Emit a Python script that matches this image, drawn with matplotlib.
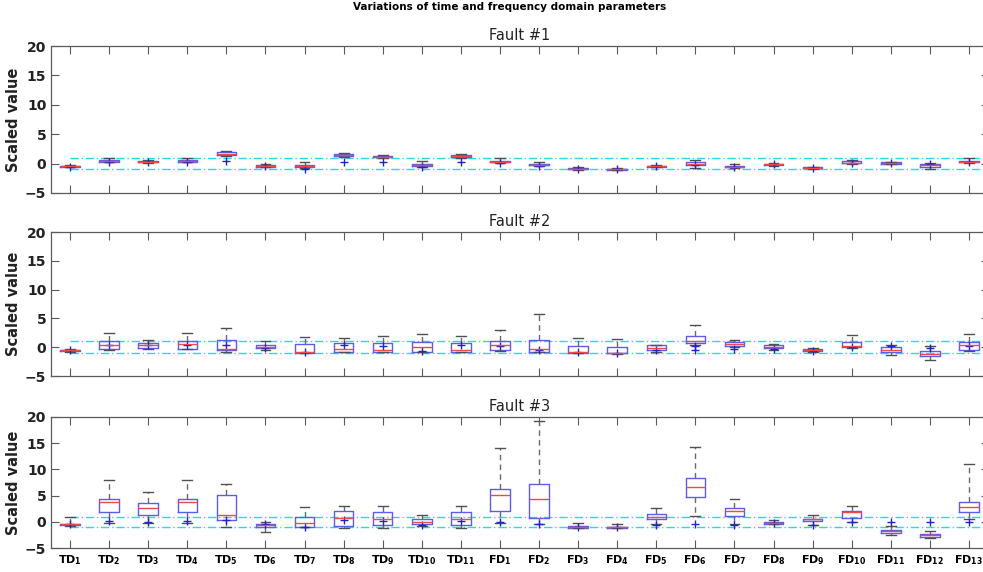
import matplotlib
matplotlib.use("Agg")
import matplotlib.pyplot as plt

# Feature names: 11 time-domain, 13 frequency-domain
td_names = [f"TD{i}" for i in range(1, 12)]
fd_names = [f"FD{i}" for i in range(1, 14)]
feature_names = td_names + fd_names
fault_titles = ["Fault #1", "Fault #2", "Fault #3"]

# Box statistics per fault, one entry per feature (TD1..TD11, FD1..FD13)
f1_q1 = [-0.55, 0.35, 0.2, 0.35, 1.5, -0.5, -0.5, 1.25, 1.05, -0.4, 1.1,
         0.2, -0.3, -1.0, -1.05, -0.55, -0.2, -0.6, -0.3, -0.8, 0.05, 0.0, -0.5, 0.2]
f1_med = [-0.45, 0.45, 0.3, 0.45, 1.7, -0.35, -0.35, 1.4, 1.2, -0.25, 1.3,
          0.3, -0.2, -0.9, -1.0, -0.45, 0.0, -0.5, -0.15, -0.7, 0.15, 0.1, -0.3, 0.3]
f1_q3 = [-0.35, 0.55, 0.4, 0.55, 1.95, -0.25, -0.2, 1.6, 1.35, -0.1, 1.45,
         0.45, -0.1, -0.8, -0.9, -0.35, 0.3, -0.35, 0.0, -0.65, 0.4, 0.2, 0.0, 0.5]
f1_lo = [-0.6, 0.2, 0.1, 0.2, 1.3, -0.6, -0.8, 1.1, 0.9, -0.6, 0.95,
         0.05, -0.4, -1.05, -1.1, -0.6, -0.8, -0.7, -0.4, -0.85, -0.1, -0.1, -0.85, 0.1]
f1_hi = [-0.3, 1.0, 0.6, 1.0, 2.1, -0.05, 0.3, 1.75, 1.5, 0.4, 1.6,
         1.0, 0.25, -0.6, -0.8, -0.25, 0.55, -0.05, 0.15, -0.55, 0.55, 0.3, 0.1, 0.9]
f1_out = [[-0.5], [0.2], [0.2], [0.25], [0.4], [-0.4], [-0.95], [0.3], [0.2], [-0.5], [0.2],
          [0.1], [-0.4], [-0.85], [-0.95], [-0.45], [-0.3], [-0.5], [-0.15], [-0.7], [0.05],
          [0.05], [0.0], [0.2]]

f2_q1 = [-0.7, -0.35, -0.2, -0.3, -0.55, -0.2, -0.95, -0.75, -0.75, -0.8, -0.75,
         -0.5, -0.8, -1.0, -1.05, -0.5, 0.7, 0.2, -0.2, -0.7, 0.0, -0.8, -1.5, -0.55]
f2_med = [-0.5, 0.45, 0.3, 0.5, -0.3, 0.0, -0.9, -0.35, -0.5, -0.05, -0.5,
          0.45, -0.3, -0.9, -1.0, -0.2, 1.0, 0.5, 0.1, -0.5, 0.15, -0.4, -1.1, 0.3]
f2_q3 = [-0.4, 1.05, 0.65, 1.0, 1.3, 0.35, 0.6, 0.65, 0.7, 0.9, 0.7,
         1.1, 1.3, 0.15, 0.0, 0.3, 2.0, 0.85, 0.45, -0.35, 0.9, 0.05, -0.6, 0.95]
f2_lo = [-0.8, -0.4, -0.25, -0.35, -0.8, -0.5, -1.0, -0.85, -0.85, -0.9, -0.85,
         -0.6, -0.85, -1.05, -1.1, -0.8, 0.3, 0.1, -0.5, -0.8, -0.1, -1.35, -2.2, -0.6]
f2_hi = [-0.3, 2.5, 1.2, 2.5, 3.25, 1.0, 1.75, 1.65, 1.9, 2.3, 1.9,
         2.9, 5.7, 1.6, 1.5, 0.45, 3.85, 1.3, 0.55, -0.1, 2.1, 0.45, 0.15, 2.35]
f2_out = [[-0.55], [0.3], [0.3], [0.3], [0.3], [-0.1], [-0.85], [0.3], [0.2], [-0.6], [0.3],
          [0.2], [-0.4], [-0.9], [-1.0], [-0.4], [0.2, -0.5], [-0.3], [-0.3], [-0.6], [0.0],
          [0.15], [-0.15], [0.2]]

f3_q1 = [-0.6, 1.8, 1.35, 1.8, 0.3, -1.0, -0.95, -0.8, -0.7, -0.5, -0.7,
         2.1, 0.75, -1.15, -1.15, 0.6, 4.65, 1.2, -0.45, 0.2, 0.75, -2.1, -2.9, 1.85]
f3_med = [-0.4, 3.8, 2.7, 3.8, 1.35, -0.7, -0.3, 0.7, 0.6, -0.1, 0.6,
          5.1, 4.3, -1.0, -1.05, 1.0, 6.7, 2.15, -0.2, 0.45, 1.9, -1.8, -2.6, 2.9]
f3_q3 = [-0.35, 4.3, 3.5, 4.3, 5.2, -0.5, 0.9, 2.05, 1.8, 0.6, 1.95,
         6.2, 7.2, -0.85, -1.0, 1.4, 8.35, 2.7, 0.0, 0.6, 2.15, -1.6, -2.4, 3.75]
f3_lo = [-0.8, -0.2, -0.2, -0.2, -1.0, -2.0, -1.0, -1.2, -1.1, -0.8, -1.1,
         -0.3, -0.5, -1.2, -1.2, -0.5, 1.05, -0.5, -0.5, -0.6, -0.1, -2.6, -3.1, 0.5]
f3_hi = [1.0, 8.0, 5.6, 8.0, 7.3, 0.0, 2.9, 3.1, 3.0, 1.3, 3.1,
         14.0, 19.2, -0.2, -0.35, 2.65, 14.2, 4.3, 0.25, 1.25, 3.05, -0.85, -1.8, 11.0]
f3_out = [[-0.4], [0.2], [0.0], [0.2], [0.3], [-0.5], [-1.0], [0.3], [0.1], [-0.6], [0.2],
          [0.0], [-0.4], [-1.0], [-1.0], [-0.6], [-0.5], [-0.6], [-0.3], [-0.7], [0.0],
          [0.0], [0.0], [0.0]]

faults = [
    (f1_q1, f1_med, f1_q3, f1_lo, f1_hi, f1_out),
    (f2_q1, f2_med, f2_q3, f2_lo, f2_hi, f2_out),
    (f3_q1, f3_med, f3_q3, f3_lo, f3_hi, f3_out),
]

# Normalisation band drawn on every panel
band_levels = [1, -1]


def tick_label(name):
    prefix, idx = name[:2], name[2:]
    return r"$\mathbf{" + prefix + r"}_{\mathbf{" + idx + r"}}$"


W, H = 983, 572
fig = plt.figure(figsize=(W / 100, H / 100), dpi=100)

# axes extents in pixels: (top, bottom); x spans 0.5..24.5
ax_left, ax_right = 50.5, 988.5
panels = [(46, 193), (232, 376), (417, 548)]

edge_gray = "#5a5a5a"
n = len(feature_names)
positions = list(range(1, n + 1))

for k, (q1, med, q3, lo, hi, out) in enumerate(faults):
    top, bot = panels[k]
    ax = fig.add_axes([ax_left / W, (H - bot) / H, (ax_right - ax_left) / W, (bot - top) / H])

    stats = []
    for i in range(n):
        stats.append({"q1": q1[i], "med": med[i], "q3": q3[i],
                      "whislo": lo[i], "whishi": hi[i], "fliers": out[i]})

    ax.bxp(
        stats, positions=positions, widths=0.5, capwidths=0.25,
        showfliers=True, manage_ticks=False,
        boxprops={"color": "#5c5cf0", "linewidth": 1.0},
        medianprops={"color": "#f04848", "linewidth": 1.0},
        whiskerprops={"color": "#6a6a6a", "linewidth": 1.0, "linestyle": (0, (4, 3))},
        capprops={"color": "#505050", "linewidth": 1.0},
        flierprops={"marker": "+", "markeredgecolor": "#2222cc", "markersize": 6,
                    "markeredgewidth": 1.0, "linestyle": "none"},
    )

    for lvl in band_levels:
        ax.plot([1, n + 0.5], [lvl, lvl], color="#22dde8", lw=1.0,
                linestyle=(0, (6, 2, 1, 2)), zorder=1)

    ax.set_xlim(0.5, n + 0.5)
    ax.set_ylim(-5, 20)
    ax.set_yticks([-5, 0, 5, 10, 15, 20])
    ax.set_xticks(positions)
    if k == 2:
        ax.set_xticklabels([tick_label(s) for s in feature_names], fontsize=8)
    else:
        ax.set_xticklabels([])
    for lab in ax.get_yticklabels():
        lab.set_fontweight("bold")
        lab.set_fontsize(10)
        lab.set_color("#222222")

    ax.tick_params(axis="both", direction="in", length=6, width=0.8, color=edge_gray,
                   top=True, right=True, pad=3)
    ax.tick_params(axis="x", pad=4)
    for sp in ax.spines.values():
        sp.set_color(edge_gray)
        sp.set_linewidth(0.9)

    ax.set_ylabel("Scaled value", fontsize=10.5, fontweight="bold", color="#222222")
    ax.yaxis.set_label_coords(-0.031, 0.5)
    ax.set_title(fault_titles[k], fontsize=10.5, color="#222222", pad=4)

fig.text(510 / W, 1 - 7 / H, "Variations of time and frequency domain parameters",
         ha="center", va="center", fontsize=7.5, fontweight="bold")

fig.savefig("out.png", dpi=100)
plt.close(fig)
